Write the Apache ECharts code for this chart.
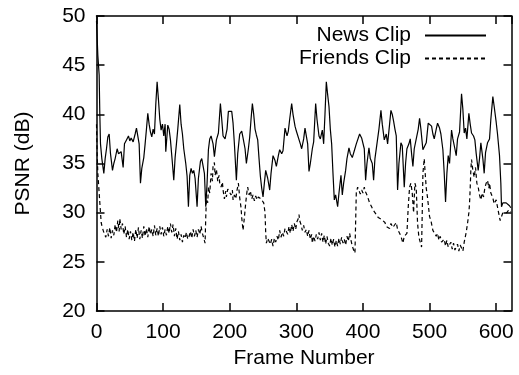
<!DOCTYPE html>
<html>
<head>
<meta charset="utf-8">
<script src="https://cdn.jsdelivr.net/npm/echarts@6/dist/echarts.min.js"></script>
<style>
  html, body { margin: 0; padding: 0; background: #fff; }
  #chart { width: 519px; height: 375px; }
</style>
</head>
<body>
<div id="chart"></div>
<script>
// PSNR per frame for two video clips: [frame, PSNR dB]
const seriesNames = ['News Clip', 'Friends Clip'];

const newsClip = [
  [0,49.5],[2,46],[4,44],[5,40],[6,37],[8,35.5],[10,34.5],[11,34],[13,35.5],[15,36.5],
  [17,37.7],[19,38],[21,36],[24,34.3],[26,35],[28,35.5],[31,36.5],[33,36],[35,35.8],[37,36.2],
  [40,34.6],[42,37],[45,37.4],[48,37.8],[50,37.3],[52,37.6],[55,37.2],[58,38],[60,38.6],[62,38.4],
  [64,37],[66,33],[68,34.5],[71,35.6],[73,37],[75,38.5],[77,40.1],[79,39],[81,38.2],[83,37.7],
  [85,38.5],[87,38],[89,41],[91,43.3],[93,41.5],[95,39.5],[97,38.4],[99,39],[101,37.8],[103,39],
  [104,36.2],[107,38.9],[109,38.5],[111,37.4],[114,35],[116,33.3],[118,35.6],[120,37],[122,38.5],[125,41],
  [127,39],[129,38],[131,36.5],[134,35],[136,33.7],[138,30.6],[140,33.8],[142,34.5],[144,34],[146,34.3],
  [148,33.5],[151,30.6],[153,33.5],[156,35.2],[158,35.5],[160,35.4],[162,34],[164,30.6],[166,33],[168,36.4],
  [170,37.5],[172,37.8],[175,37],[177,35.7],[180,37.4],[183,38.1],[186,41.1],[188,39.5],[190,37.8],[193,37.5],
  [196,38.5],[198,40.3],[201,40.3],[203,40.3],[205,39.1],[207,37],[210,33.3],[212,36],[215,38],[218,38.3],
  [220,37.6],[223,36.5],[225,35],[228,36.5],[230,37.7],[232,39.5],[234,41.1],[236,40],[238,38.5],[240,37.9],
  [242,37.4],[244,35.5],[246,33.7],[248,32.5],[250,31.6],[252,33],[254,34.3],[257,33.5],[260,32.3],[262,34],
  [265,35.8],[268,35.3],[270,34.7],[273,35.8],[275,36.4],[278,36],[280,36.3],[283,38.6],[286,37.8],[288,38.3],
  [290,39.5],[293,41.1],[295,40],[298,38.8],[300,38.3],[303,38.3],[306,37],[308,36.5],[311,37.5],[313,38.6],
  [315,38.4],[317,37],[319,34.2],[321,35],[324,36.5],[326,37.2],[329,41.1],[331,39.5],[334,37.8],[336,37.5],
  [339,38.4],[341,37],[343,40],[345,43.3],[347,42],[349,40.8],[351,38.5],[353,37],[355,34],[357,31.3],
  [359,31.8],[362,30.6],[364,32],[367,33.8],[369,31.8],[371,33],[374,34.3],[376,35.5],[379,36.6],[381,36],
  [384,35.6],[387,36.3],[390,37],[393,36.8],[395,38],[398,37.6],[400,37.5],[402,36.5],[404,33.3],[406,35],
  [409,36.6],[411,35.5],[414,35],[416,33.3],[418,35.5],[421,37],[424,38.5],[427,40.4],[429,39],[432,37.4],
  [435,38],[437,37],[440,39],[442,40.4],[444,40],[446,39.3],[448,38.5],[450,37.8],[452,32.3],[454,35],
  [457,37.1],[459,36.8],[462,32.6],[464,35],[466,36.5],[469,37],[471,37.5],[473,36],[475,34.7],[477,36.5],
  [480,37.5],[483,38.5],[485,39.6],[487,38.5],[490,36.4],[492,36.5],[495,37.1],[498,39.1],[500,39.1],[503,38.8],
  [505,38],[507,37.5],[510,38.5],[512,39.1],[515,38.6],[517,38],[520,36.4],[522,34],[524,31.1],[526,34],
  [528,35.8],[530,35],[533,38.4],[535,37.5],[538,36.5],[540,35.8],[542,37.5],[545,38.2],[548,42.1],[550,40.5],
  [552,38.1],[554,38.6],[556,37.5],[559,40.1],[561,39],[563,38.1],[566,37.8],[568,37.4],[570,36],[573,34.3],
  [575,35.5],[577,37.1],[580,35.5],[582,34],[584,36.1],[587,37.1],[590,37.5],[592,39.5],[595,41.8],[597,40.8],
  [600,39.2],[602,38],[605,35.8],[607,33],[608,30.6],[610,31],[612,30.8],[615,31],[617,30.8],[620,30.7],
  [622,30.5]
];

const friendsClip = [
  [0,39],[1,36],[2,34],[3,33],[4,32],[5,31],[6,30],[7,29],[8,28.7],[10,28.2],
  [12,27.8],[14,27.5],[16,28.3],[18,27.6],[20,28.5],[22,27.4],[24,28.2],[26,27.7],[28,28.8],[30,28],
  [32,29.2],[34,28.1],[35,29.4],[37,28.3],[39,28.9],[41,27.8],[43,28.6],[45,27.5],[47,28.3],[49,27.3],
  [51,28.1],[53,27.2],[55,28],[57,27.1],[59,28.3],[61,27.4],[63,28.5],[65,27.3],[67,28.2],[69,27.4],
  [71,28.6],[73,27.6],[75,28.4],[77,27.5],[79,28.6],[81,27.8],[83,28.3],[85,27.6],[87,28.7],[89,27.7],
  [91,28.4],[93,27.6],[95,28.6],[97,27.8],[99,28.5],[101,27.6],[103,28.3],[105,27.7],[107,28.6],[109,27.9],
  [111,28.9],[113,28],[115,28.8],[117,27.6],[119,28.4],[121,27.3],[123,28.1],[125,27.2],[127,27.8],[129,27],
  [131,27.7],[133,27.4],[135,28],[137,27.3],[139,27.6],[141,28.1],[143,27.4],[145,28.3],[147,27.6],[149,28.2],
  [151,27.5],[153,28.3],[155,27.8],[157,28.6],[159,27.9],[161,27.4],[163,26.9],[164,29.5],[165,31.4],[167,31],
  [168,32.6],[170,32],[172,34],[174,33.2],[175,34.8],[177,35.1],[178,33.8],[180,34.4],[182,33.2],[184,33.8],
  [185,33],[187,32.6],[189,33.1],[190,32.3],[192,31.4],[194,32.2],[195,31.6],[197,32.4],[200,32.6],[202,31.8],
  [204,32.3],[205,31.3],[207,31.8],[209,31.4],[211,32.3],[213,33],[215,31.5],[217,30.5],[218,29.5],[220,28.2],
  [222,29.5],[224,31],[226,32.2],[227,32.6],[229,31.8],[231,32.2],[233,31.4],[235,31.8],[237,31.2],[239,31.7],
  [241,31.3],[243,31.6],[245,31.8],[247,31.4],[249,31.6],[251,31],[253,30],[254,28],[255,26.9],[257,27.4],
  [259,27.6],[261,26.8],[263,27.3],[265,26.6],[267,27.4],[269,27],[271,27.6],[273,27.2],[275,28.2],[277,27.5],
  [279,28],[281,27.6],[283,28.4],[285,28.6],[287,27.8],[289,28.6],[291,27.9],[293,28.8],[295,28.1],[297,28.9],
  [299,28.3],[301,29.1],[303,29.4],[304,29.8],[305,29.2],[307,28.8],[309,28.2],[311,28.7],[313,28],[315,28.3],
  [317,27.6],[319,28.2],[321,27.3],[323,27.8],[324,26.9],[326,27.6],[328,27.1],[330,27.8],[332,27.3],[334,28],
  [336,27.2],[338,27.9],[340,27],[342,27.7],[344,26.8],[346,27.6],[348,26.9],[350,26.6],[352,27.4],[354,26.7],
  [356,27.3],[358,26.5],[360,27.2],[362,26.6],[364,27.4],[366,26.8],[368,27.5],[370,26.9],[372,27.3],[374,26.7],
  [376,27.6],[378,27.1],[380,27.9],[382,27.2],[384,26.6],[386,26.2],[388,25.9],[389,29],[390,32],[392,32.6],
  [394,32.4],[396,31.9],[398,32.3],[400,32],[402,32.6],[404,32.1],[406,31.8],[408,31.4],[410,31],[413,30.6],
  [415,30.3],[418,30],[420,29.9],[423,29.5],[425,29.6],[428,29.3],[430,29.2],[433,29],[435,28.6],[438,28.7],
  [440,28.4],[442,28.9],[445,28.5],[447,28.6],[450,29],[452,28.3],[455,27.9],[457,27.6],[460,26.9],[462,27.6],
  [464,27.4],[466,27.9],[468,30.6],[470,32.6],[472,33],[474,32],[476,30],[478,33],[480,32.5],[482,28.9],
  [484,27.5],[486,27],[488,26.5],[489,30],[490,34],[492,35.5],[493,34.4],[495,32.5],[497,31.5],[500,29.6],
  [502,29.2],[505,28.2],[507,28.4],[510,27.6],[512,27.9],[514,27.2],[516,27.6],[518,27],[520,26.9],[522,27.3],
  [524,26.6],[526,27.2],[528,26.5],[530,26.6],[532,27],[534,26.3],[536,26.9],[538,26.2],[540,26.2],[542,26.8],
  [544,26.1],[546,26.7],[548,26.6],[550,26.1],[552,27],[553,27.2],[555,28],[557,28.9],[559,30],[560,30.9],
  [561,32.5],[562,34.4],[563,35.4],[565,34.3],[567,33.6],[569,34.6],[571,33],[573,32.6],[575,31.8],[577,31.3],
  [579,32],[581,31.6],[583,32.5],[585,33],[587,33.3],[589,32.5],[590,33],[592,32],[595,31.5],[597,30.9],
  [600,31.3],[603,30.2],[606,29.2],[608,29.6],[610,30],[613,30.2],[616,30],[619,30.3],[622,30.1]
];

const frameTicks = { min: 0, max: 623, interval: 100 };
const psnrTicks = { min: 20, max: 50, interval: 5 };

const FONT = '"Liberation Sans", Arial, Helvetica, sans-serif';
const FS = 21;
const ink = '#000';

const chart = echarts.init(document.getElementById('chart'), null, { renderer: 'canvas' });

const baseAxis = {
  splitLine: { show: false },
  axisLine: { show: true, onZero: false, lineStyle: { color: ink, width: 1.5 } },
  axisTick: { show: true, inside: true, length: 8, lineStyle: { color: ink, width: 1.5 } }
};

const legendBase = {
  orient: 'vertical', align: 'right', right: 32, padding: 0,
  itemWidth: 61, itemHeight: 14, selectedMode: false,
  itemStyle: { opacity: 0, borderWidth: 0 },
  textStyle: { fontSize: FS, color: ink, fontFamily: FONT, padding: [0, 9, 0, 0] }
};

chart.setOption({
  animation: false,
  backgroundColor: '#fff',
  textStyle: { fontFamily: FONT },
  grid: { left: 96.5, right: 7.5, top: 16, bottom: 64, containLabel: false },
  legend: [
    Object.assign({}, legendBase, { data: [seriesNames[0]], top: 25 }),
    Object.assign({}, legendBase, { data: [seriesNames[1]], top: 48 })
  ],
  xAxis: [
    Object.assign({}, baseAxis, {
      type: 'value', position: 'bottom',
      min: frameTicks.min, max: frameTicks.max, interval: frameTicks.interval,
      name: 'Frame Number', nameLocation: 'middle', nameGap: 34,
      nameTextStyle: { fontSize: FS, color: ink, fontFamily: FONT },
      axisLabel: { color: ink, fontSize: FS, margin: 11, showMaxLabel: false, fontFamily: FONT }
    }),
    Object.assign({}, baseAxis, {
      type: 'value', position: 'top',
      min: frameTicks.min, max: frameTicks.max, interval: frameTicks.interval,
      axisLabel: { show: false }
    })
  ],
  yAxis: [
    Object.assign({}, baseAxis, {
      type: 'value', position: 'left',
      min: psnrTicks.min, max: psnrTicks.max, interval: psnrTicks.interval,
      name: 'PSNR (dB)', nameLocation: 'middle', nameGap: 63, nameRotate: 90,
      nameTextStyle: { fontSize: FS, color: ink, fontFamily: FONT },
      axisLabel: { color: ink, fontSize: FS, margin: 11, fontFamily: FONT }
    }),
    Object.assign({}, baseAxis, {
      type: 'value', position: 'right',
      min: psnrTicks.min, max: psnrTicks.max, interval: psnrTicks.interval,
      axisLabel: { show: false }
    })
  ],
  series: [
    {
      name: seriesNames[0], type: 'line', data: newsClip,
      xAxisIndex: 0, yAxisIndex: 0,
      showSymbol: false, symbol: 'none', clip: true,
      itemStyle: { color: ink },
      lineStyle: { color: ink, width: 1.2 }
    },
    {
      name: seriesNames[1], type: 'line', data: friendsClip,
      xAxisIndex: 0, yAxisIndex: 0,
      showSymbol: false, symbol: 'none', clip: true,
      itemStyle: { color: ink },
      lineStyle: { color: ink, width: 1.2, type: [4, 3] }
    }
  ]
});
</script>
</body>
</html>
